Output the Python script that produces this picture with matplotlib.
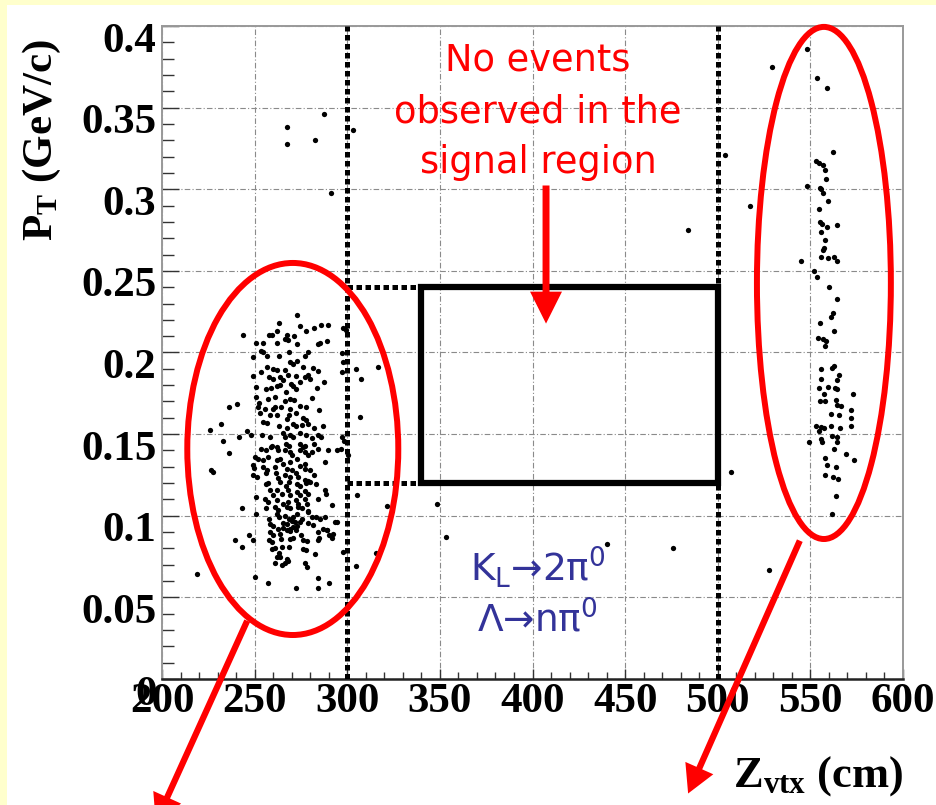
import matplotlib
matplotlib.use('Agg')
import matplotlib.pyplot as plt
import matplotlib.transforms as mtransforms
from matplotlib.patches import Ellipse, Rectangle, FancyArrowPatch
from matplotlib.ticker import MultipleLocator

plt.rcParams['font.family'] = 'Liberation Serif'
plt.rcParams['font.weight'] = 'bold'
plt.rcParams['mathtext.fontset'] = 'custom'
plt.rcParams['mathtext.rm'] = 'DejaVu Sans:weight=normal:style=normal'
plt.rcParams['mathtext.bf'] = 'Liberation Serif:bold'

# Z vertex (cm) and transverse momentum (GeV/c) of the upstream events
z_up = [273.0, 263.2, 243.6, 257.8, 259.2, 262.2, 267.3, 274.5, 277.7, 282.2, 285.8, 289.4, 271.4, 266.4,
        250.6, 254.7, 262.2, 267.9, 273.0, 284.0, 285.3, 288.9, 253.4, 254.4, 268.6, 279.0, 249.0, 256.8,
        263.3, 277.2, 269.1, 273.0, 253.4, 256.8, 260.1, 262.2, 266.4, 270.9, 276.3, 281.3, 284.0, 249.0,
        257.9, 260.1, 263.7, 268.2, 272.3, 277.2, 279.0, 258.8, 262.2, 263.7, 265.5, 269.5, 270.9, 274.5,
        279.9, 283.5, 287.4, 250.7, 256.1, 250.7, 257.4, 261.0, 266.9, 272.3, 269.1, 280.8, 252.5, 252.0,
        255.6, 259.8, 261.0, 264.1, 266.4, 269.1, 271.3, 274.5, 277.7, 284.9, 236.3, 240.3, 231.7, 225.9,
        252.9, 254.7, 256.8, 258.3, 262.2, 267.6, 268.7, 272.3, 276.0, 277.7, 263.3, 267.3, 270.9, 272.3,
        275.4, 279.0, 282.0, 286.7, 241.7, 246.0, 247.9, 233.1, 253.8, 258.3, 265.2, 266.4, 269.1, 270.9,
        274.5, 277.7, 284.0, 285.7, 280.8, 259.2, 262.2, 266.9, 268.7, 274.5, 277.2, 282.2, 253.4, 256.1,
        258.7, 262.8, 266.4, 269.1, 270.0, 274.5, 276.3, 277.2, 279.0, 280.8, 284.4, 289.4, 294.3, 236.3,
        250.2, 252.0, 254.4, 257.4, 262.2, 263.7, 269.1, 272.7, 277.2, 288.0, 226.3, 227.4, 249.0, 249.8,
        254.7, 256.8, 261.0, 265.5, 267.3, 270.0, 274.5, 277.2, 279.9, 249.0, 251.1, 256.1, 261.5, 262.8,
        266.4, 269.1, 272.3, 273.6, 277.2, 279.0, 282.0, 256.1, 257.4, 263.7, 266.9, 268.7, 272.7, 274.5,
        277.7, 279.9, 283.1, 288.0, 288.5, 258.3, 259.8, 262.2, 264.6, 268.2, 269.1, 272.7, 274.5, 277.2,
        279.0, 250.7, 255.6, 257.4, 261.9, 265.5, 268.2, 272.3, 273.6, 277.2, 278.1, 284.4, 243.0, 256.1,
        261.0, 262.8, 267.3, 269.1, 273.6, 275.4, 279.0, 291.6, 250.7, 257.9, 262.2, 263.3, 266.4, 268.7,
        270.9, 272.7, 275.4, 279.0, 280.8, 283.1, 285.3, 288.0, 294.3, 258.3, 260.1, 265.2, 267.3, 270.0,
        271.8, 274.5, 279.0, 281.7, 287.1, 288.9, 262.8, 265.5, 269.1, 270.5, 273.0, 258.3, 259.8, 263.7,
        267.3, 269.1, 272.3, 275.0, 284.4, 284.9, 289.2, 290.3, 291.6, 247.1, 249.0, 239.4, 243.0, 257.9,
        259.2, 264.1, 269.1, 270.9, 275.9, 278.4, 284.4, 259.2, 261.0, 264.6, 268.7, 276.3, 277.7, 263.3,
        263.7, 262.2, 282.6, 267.3, 268.2, 261.0, 264.6, 266.4, 277.2, 278.1, 250.2, 218.7, 284.4, 290.3,
        257.4, 272.3, 284.4,
        297.5, 299.3, 297.0, 297.5, 297.0, 297.0, 298.2, 296.5, 300.6, 293.4, 292.1, 297.9,
        304.7, 307.4, 316.4, 306.9, 305.1, 321.3, 315.4, 304.7]
pt_up = [0.223, 0.218, 0.211, 0.211, 0.211, 0.213, 0.211, 0.216, 0.213, 0.215, 0.217, 0.217, 0.210, 0.208,
         0.206, 0.206, 0.206, 0.2075, 0.205, 0.205, 0.206, 0.207, 0.201, 0.200, 0.2005, 0.200, 0.197, 0.198,
         0.198, 0.198, 0.194, 0.195, 0.188, 0.191, 0.190, 0.1895, 0.189, 0.193, 0.191, 0.1905, 0.1885, 0.1855,
         0.185, 0.1835, 0.185, 0.186, 0.1855, 0.1848, 0.186, 0.178, 0.1795, 0.180, 0.183, 0.1805, 0.1795, 0.182,
         0.1835, 0.1785, 0.182, 0.179, 0.1775, 0.173, 0.1715, 0.173, 0.176, 0.1775, 0.1715, 0.172, 0.169, 0.1665,
         0.1655, 0.1655, 0.1665, 0.1665, 0.170, 0.1655, 0.171, 0.167, 0.1665, 0.1645, 0.1665, 0.1685, 0.156, 0.1525,
         0.163, 0.1575, 0.157, 0.1615, 0.1615, 0.1595, 0.1615, 0.163, 0.160, 0.1585, 0.155, 0.1535, 0.1565, 0.155,
         0.1555, 0.1565, 0.1535, 0.155, 0.1485, 0.152, 0.1495, 0.146, 0.1495, 0.1485, 0.1505, 0.1485, 0.1495, 0.148,
         0.1505, 0.1495, 0.1495, 0.1485, 0.1475, 0.143, 0.142, 0.144, 0.1425, 0.144, 0.1425, 0.144, 0.141, 0.1405,
         0.142, 0.140, 0.140, 0.139, 0.137, 0.140, 0.142, 0.139, 0.137, 0.139, 0.141, 0.140, 0.140, 0.1385,
         0.136, 0.135, 0.134, 0.136, 0.134, 0.135, 0.133, 0.1345, 0.132, 0.133, 0.128, 0.1265, 0.131, 0.1295,
         0.130, 0.128, 0.130, 0.1315, 0.1285, 0.128, 0.1305, 0.1285, 0.128, 0.125, 0.1235, 0.126, 0.126, 0.123,
         0.125, 0.124, 0.126, 0.1235, 0.122, 0.1215, 0.125, 0.1195, 0.120, 0.1205, 0.1185, 0.1205, 0.1195, 0.118,
         0.120, 0.1205, 0.1195, 0.1155, 0.1135, 0.1155, 0.113, 0.1155, 0.1135, 0.116, 0.1125, 0.1145, 0.1125, 0.115,
         0.1135, 0.1115, 0.110, 0.1085, 0.1095, 0.1075, 0.1085, 0.1095, 0.1075, 0.1105, 0.1075, 0.1105, 0.105, 0.1045,
         0.1055, 0.1035, 0.1055, 0.1045, 0.1055, 0.1045, 0.103, 0.1065, 0.101, 0.098, 0.101, 0.099, 0.100, 0.098,
         0.0995, 0.101, 0.098, 0.102, 0.0995, 0.099, 0.098, 0.099, 0.096, 0.095, 0.0935, 0.0955, 0.095, 0.097,
         0.096, 0.096, 0.0955, 0.0945, 0.092, 0.0915, 0.092, 0.0925, 0.092, 0.093, 0.0935, 0.090, 0.088, 0.089,
         0.0915, 0.0905, 0.091, 0.0885, 0.090, 0.0865, 0.091, 0.0885, 0.0865, 0.0885, 0.085, 0.085, 0.081, 0.085,
         0.084, 0.086, 0.086, 0.0865, 0.085, 0.0845, 0.085, 0.0795, 0.0805, 0.081, 0.081, 0.0795, 0.079, 0.077,
         0.075, 0.0745, 0.0765, 0.0735, 0.072, 0.071, 0.070, 0.071, 0.071, 0.0685, 0.0625, 0.0645, 0.062, 0.059,
         0.059, 0.056, 0.056,
         0.215, 0.214, 0.1995, 0.194, 0.188, 0.148, 0.146, 0.141, 0.137, 0.096, 0.089, 0.0775,
         0.190, 0.184, 0.191, 0.1605, 0.1125, 0.106, 0.077, 0.069]

# events near the downstream end
z_down = [548.0, 529.4, 553.7, 559.1, 562.2, 553.2, 554.5, 556.6, 557.9, 558.4, 548.0, 555.2, 555.7, 556.6,
          559.5, 517.4, 554.9, 555.2, 556.4, 559.1, 564.5, 555.6, 558.1, 557.4, 556.6, 555.9, 559.5, 562.9,
          564.5, 544.8, 551.9, 553.7, 559.8, 564.5, 562.0, 560.9, 555.2, 562.7, 553.9, 556.6, 558.4, 557.9,
          555.9, 561.5, 562.9, 555.6, 565.3, 564.2, 559.3, 554.5, 563.1, 564.5, 557.4, 572.8, 555.2, 557.9,
          564.0, 564.5, 566.4, 571.8, 560.9, 565.3, 571.8, 553.0, 555.6, 557.4, 560.9, 566.1, 571.9, 554.7,
          561.5, 564.2, 555.7, 556.3, 549.4, 564.3, 562.7, 569.2, 573.5, 557.9, 558.8, 563.8, 558.1, 562.0,
          565.1, 563.8, 561.7]
pt_down = [0.386, 0.375, 0.368, 0.362, 0.323, 0.317, 0.316, 0.315, 0.312, 0.306, 0.302, 0.301, 0.300, 0.298,
           0.293, 0.290, 0.288, 0.280, 0.279, 0.277, 0.278, 0.274, 0.269, 0.264, 0.263, 0.2585, 0.258, 0.2585,
           0.256, 0.256, 0.250, 0.246, 0.240, 0.233, 0.2245, 0.222, 0.218, 0.213, 0.209, 0.208, 0.207, 0.204,
           0.190, 0.1905, 0.192, 0.184, 0.186, 0.183, 0.179, 0.178, 0.178, 0.1775, 0.1745, 0.1745, 0.170, 0.170,
           0.171, 0.168, 0.167, 0.165, 0.1625, 0.162, 0.160, 0.155, 0.1545, 0.154, 0.155, 0.1535, 0.155, 0.152,
           0.1487, 0.148, 0.147, 0.145, 0.145, 0.145, 0.141, 0.1377, 0.134, 0.1354, 0.131, 0.130, 0.1247, 0.1237,
           0.1227, 0.112, 0.101]

# isolated events elsewhere
z_other = [267.3, 267.3, 282.6, 287.4, 291.1, 303.3, 348.6, 353.3, 440.0, 476.0, 483.8, 503.9, 507.1, 527.8]
pt_other = [0.338, 0.328, 0.330, 0.346, 0.298, 0.336, 0.107, 0.087, 0.083, 0.080, 0.275, 0.321, 0.127, 0.067]

# cut lines and signal box
z_cuts = [300, 500]
box_z = [340, 500]
box_pt = [0.12, 0.24]

x_ticks = [200, 250, 300, 350, 400, 450, 500, 550, 600]
y_ticks = [0, 0.05, 0.1, 0.15, 0.2, 0.25, 0.3, 0.35, 0.4]
y_labels = ['0', '0.05', '0.1', '0.15', '0.2', '0.25', '0.3', '0.35', '0.4']

W, H = 937, 805
fig = plt.figure(figsize=(W / 100, H / 100), dpi=100)
fig.patch.set_facecolor('#FFFFCC')
fig.add_artist(Rectangle((7 / W, 0), 1, 1 - 5 / H, transform=fig.transFigure,
                         facecolor='white', edgecolor='none', zorder=-5))

ax = fig.add_axes([162 / W, 1 - 679 / H, (903 - 162) / W, (679 - 26) / H])
ax.set_xlim(200, 600)
ax.set_ylim(0, 0.4)

# grid
ax.set_xticks(x_ticks)
ax.set_yticks(y_ticks)
ax.set_yticklabels(y_labels)
ax.xaxis.set_minor_locator(MultipleLocator(10))
ax.yaxis.set_minor_locator(MultipleLocator(0.01))
ax.grid(True, which='major', color='#8a8a8a', lw=0.8, linestyle=(0, (5, 2, 1, 2)), zorder=0)
ax.set_axisbelow(True)

ax.tick_params(axis='both', which='both', direction='in', colors='#333333', labelcolor='black', labelsize=31)
ax.tick_params(axis='x', which='major', length=7.5, width=1.0, pad=3)
ax.tick_params(axis='x', which='minor', length=5, width=1.0)
ax.tick_params(axis='y', which='major', length=12, width=1.0, pad=4)
ax.tick_params(axis='y', which='minor', length=8.5, width=1.0)
for side in ['left', 'top', 'right']:
    ax.spines[side].set_color('#999999')
    ax.spines[side].set_linewidth(1.4)
ax.spines['bottom'].set_color('#222222')
ax.spines['bottom'].set_linewidth(1.8)

# y labels sit a little below their ticks
shift = mtransforms.ScaledTranslation(0, -8 / 72, fig.dpi_scale_trans)
for lab in ax.get_yticklabels():
    lab.set_transform(lab.get_transform() + shift)

# events
dot = dict(marker='o', linestyle='none', color='black', ms=3.8, mew=0, zorder=3)
ax.plot(z_up, pt_up, **dot)
ax.plot(z_down, pt_down, **dot)
ax.plot(z_other, pt_other, **dot)

# cuts
cut_style = dict(color='black', lw=3.6, linestyle=(0, (1.1, 0.7)), dash_capstyle='butt', zorder=4)
for zc in z_cuts:
    ax.axvline(zc, **cut_style)
for p in box_pt:
    ax.plot([z_cuts[0], box_z[0]], [p, p], **cut_style)
ax.add_patch(Rectangle((box_z[0], box_pt[0]), box_z[1] - box_z[0], box_pt[1] - box_pt[0],
                       fill=False, edgecolor='black', lw=4.5, joinstyle='miter', zorder=5))

# annotations
red = '#FF0000'
ax.add_patch(Ellipse((270.6, 0.1409), 113.9, 0.2279, fill=False, edgecolor=red, lw=4.3,
                     clip_on=False, zorder=6))
ax.add_patch(Ellipse((557.3, 0.2426), 72.3, 0.3137, fill=False, edgecolor=red, lw=4.3,
                     clip_on=False, zorder=6))

sans = dict(family='DejaVu Sans', fontweight='normal', ha='center', va='baseline')
ax.text(403, 0.373, 'No events', color=red, fontsize=26.5, zorder=7, **sans)
ax.text(403, 0.341, 'observed in the', color=red, fontsize=26.5, zorder=7, **sans)
ax.text(403, 0.310, 'signal region', color=red, fontsize=26.5, zorder=7, **sans)

ax.add_patch(FancyArrowPatch((407.3, 0.304), (407.3, 0.216),
                             arrowstyle='simple,head_length=2.3,head_width=2.3,tail_width=0.5',
                             mutation_scale=10, color=red, lw=0, zorder=7))
for start, end in [((246.6, 0.0372), (196.0, -0.0895)), ((544.9, 0.0863), (483.4, -0.0717))]:
    ax.add_patch(FancyArrowPatch(start, end,
                                 arrowstyle='simple,head_length=2.0,head_width=2.2,tail_width=0.45',
                                 mutation_scale=10, color=red, lw=0, clip_on=False, zorder=7))

blue = '#333399'
ax.text(402.7, 0.0596, r'K$_\mathrm{L}$→2π$^\mathrm{0}$', color=blue, fontsize=27, zorder=7, **sans)
ax.text(402.7, 0.0289, r'Λ→nπ$^\mathrm{0}$', color=blue, fontsize=27, zorder=7, **sans)

# axis titles
fig.text(42 / W, 1 - 140 / H, r'$\mathbf{P_T}$ (GeV/c)', rotation=90, ha='center', va='center', fontsize=31)
fig.text(903 / W, 1 - 787 / H, r'$\mathbf{Z_{vtx}}$ (cm)', ha='right', va='baseline', fontsize=32)

fig.savefig('out.png', dpi=100, facecolor=fig.get_facecolor())
